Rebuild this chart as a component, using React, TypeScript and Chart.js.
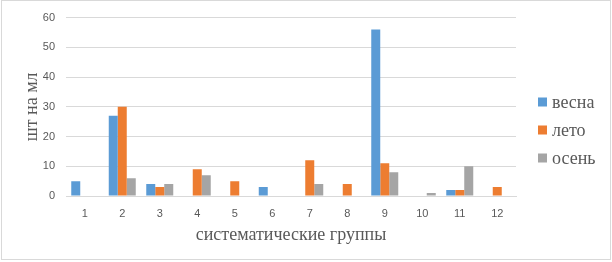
import React, { useEffect, useRef } from "react";
import { Chart, registerables } from "chart.js";

Chart.register(...registerables);

const categories = ["1", "2", "3", "4", "5", "6", "7", "8", "9", "10", "11", "12"];
const spring = [5, 27, 4, 0, 0, 3, 0, 0, 56, 0, 2, 0];
const summer = [0, 30, 3, 9, 5, 0, 12, 4, 11, 0, 2, 3];
const autumn = [0, 6, 4, 7, 0, 0, 4, 0, 8, 1, 10, 0];
const seriesNames = ["весна", "лето", "осень"];
const seriesColors = ["#5B9BD5", "#ED7D31", "#A5A5A5"];
const yTitle = "шт на мл";
const xTitle = "систематические группы";

const SERIF = "'Liberation Serif', 'Times New Roman', serif";
const SANS = "'Liberation Sans', Arial, sans-serif";

const legendPlugin = {
  id: "customLegend",
  afterDraw(chart: any) {
    const ctx = chart.ctx;
    const area = chart.chartArea;
    ctx.save();
    ctx.font = `18px ${SERIF}`;
    ctx.textBaseline = "middle";
    ctx.textAlign = "left";
    const boxX = area.right + 22;
    const startY = 102;
    const step = 28;
    chart.data.datasets.forEach((ds: any, i: number) => {
      const cy = startY + i * step;
      ctx.fillStyle = ds.backgroundColor;
      ctx.fillRect(boxX, cy - 4.5, 9, 9);
      ctx.fillStyle = "#595959";
      ctx.fillText(ds.label, boxX + 14, cy + 1);
    });
    ctx.restore();
  },
};

export default function App() {
  const ref = useRef<HTMLCanvasElement | null>(null);
  useEffect(() => {
    document.body.style.margin = "0";
    const canvas = ref.current;
    if (!canvas) return;
    const chart = new Chart(canvas, {
      type: "bar",
      data: {
        labels: categories,
        datasets: [spring, summer, autumn].map((d, i) => ({
          label: seriesNames[i],
          data: d,
          backgroundColor: seriesColors[i],
          borderWidth: 0,
          barPercentage: 1,
          categoryPercentage: 0.72,
        })),
      },
      options: {
        animation: false,
        responsive: false,
        maintainAspectRatio: false,
        layout: { padding: { left: 0, right: 96, top: 15, bottom: 0 } },
        plugins: {
          legend: { display: false },
          tooltip: { enabled: false },
        },
        scales: {
          x: {
            grid: { display: false, drawTicks: false },
            border: { display: true, color: "#D9D9D9", width: 1 },
            ticks: { color: "#595959", font: { family: SANS, size: 11 }, padding: 11 },
            title: {
              display: true,
              text: xTitle,
              color: "#595959",
              font: { family: SERIF, size: 18 },
              padding: { top: 0, bottom: 16 },
            },
            afterFit(scale: any) {
              scale.height = 66;
            },
          },
          y: {
            min: 0,
            max: 60,
            ticks: { stepSize: 10, color: "#595959", font: { family: SANS, size: 11 }, padding: 11 },
            grid: { color: "#D9D9D9", drawTicks: false },
            border: { display: false },
            title: {
              display: true,
              text: yTitle,
              color: "#595959",
              font: { family: SERIF, size: 18 },
              padding: { top: 21, bottom: 0 },
            },
            afterFit(scale: any) {
              scale.width = 66;
            },
          },
        },
      },
      plugins: [legendPlugin],
    });
    return () => chart.destroy();
  }, []);

  return (
    <div
      style={{
        position: "relative",
        width: 612,
        height: 262,
        background: "#fff",
      }}
    >
      <canvas ref={ref} width={612} height={262} style={{ display: "block" }} />
      <div
        style={{
          position: "absolute",
          left: 1,
          top: 0,
          width: 608,
          height: 258,
          border: "1px solid #D9D9D9",
          boxSizing: "content-box",
          pointerEvents: "none",
        }}
      />
    </div>
  );
}
